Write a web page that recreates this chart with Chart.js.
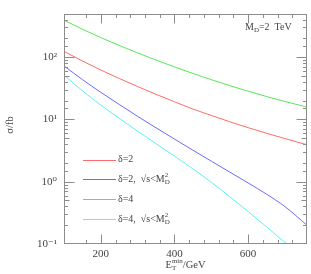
<!DOCTYPE html>
<html lang="en">
<head>
<meta charset="UTF-8">
<title>sigma vs ET min</title>
<script src="https://cdn.jsdelivr.net/npm/chart.js@4.4.1/dist/chart.umd.min.js"></script>
<style>
  html, body { margin: 0; padding: 0; background: #fff; }
  #wrap { width: 311px; height: 274px; }
</style>
</head>
<body>
<div id="wrap"><canvas id="xsec"></canvas></div>
<script>
// E_T^min in GeV
const etMin = [100, 150, 200, 250, 300, 350, 400, 450, 500, 550, 600, 650, 700, 760];
// sigma in fb
const sigD2    = [124, 86.7, 62.1, 45.5, 33.7, 25.3, 19.2, 14.7, 11.6, 9.18, 7.38, 6.0, 4.93, 3.92];
const sigD2Cut = [72.4, 43.6, 27.2, 17.4, 11.2, 7.33, 4.84, 3.21, 2.14, 1.43, 0.957, 0.632, 0.399, 0.2];
const sigD4    = [392, 281, 206, 154, 117, 89.7, 69.7, 54.7, 43.5, 34.9, 28.4, 23.3, 19.4, 15.8];
const sigD4Cut = [51.4, 28.9, 17.0, 10.4, 6.47, 4.08, 2.58, 1.61, 0.98, 0.577, 0.332, 0.189, 0.106, 0.053];
const xLabels = [200, 400, 600];
const SUP = { '-': '⁻', '0': '⁰', '1': '¹', '2': '²', '3': '³' };

const serif = '"Liberation Serif", "DejaVu Serif", serif';
const txtCol = '#444';
const frameCol = '#8c8c8c';

const colors = ['#ff6a6a', '#6a6aff', '#55e855', '#55f5f5'];
// legend rows: [text, style] pieces, style '' | 'sub' | 'sup'
const legendRows = [
  [['δ=2', '']],
  [['δ=2,  √s<M', ''], ['D', 'sub'], ['2', 'sup']],
  [['δ=4', '']],
  [['δ=4,  √s<M', ''], ['D', 'sub'], ['2', 'sup']]
];

const pts = (ys) => etMin.map((x, i) => ({ x: x, y: ys[i] }));

// draw text with stacked sub/superscripts, returns width
function rich(ctx, parts, x, y, size, measureOnly) {
  let cx = x, pend = 0;
  parts.forEach((p) => {
    const [t, st] = p;
    if (st === '') {
      cx += pend; pend = 0;
      ctx.font = size + 'px ' + serif;
      if (!measureOnly) ctx.fillText(t, cx, y);
      cx += ctx.measureText(t).width;
    } else {
      ctx.font = Math.round(size * 0.68) + 'px ' + serif;
      const w = ctx.measureText(t).width;
      if (!measureOnly) ctx.fillText(t, cx, st === 'sub' ? y + size * 0.3 : y - size * 0.42);
      pend = Math.max(pend, w);
    }
  });
  return cx + pend - x;
}

const decor = {
  id: 'decor',
  afterDraw(chart) {
    const ctx = chart.ctx;
    const a = chart.chartArea;
    const xs = chart.scales.x, ys = chart.scales.y;
    ctx.save();
    ctx.strokeStyle = frameCol;
    ctx.lineWidth = 1;
    const L = Math.round(a.left) + 0.5, R = Math.round(a.right) - 0.5;
    const T = Math.round(a.top) + 0.5, B = Math.round(a.bottom) - 0.5;
    ctx.strokeRect(L, T, R - L, B - T);
    ctx.beginPath();
    xs.ticks.forEach(t => {
      const v = t.value;
      if (v <= xs.min || v >= xs.max) return;
      const px = Math.round(xs.getPixelForValue(v)) + 0.5;
      const len = v % 200 === 0 ? 9 : 3.5;
      ctx.moveTo(px, B); ctx.lineTo(px, B - len);
      ctx.moveTo(px, T); ctx.lineTo(px, T + len);
    });
    ys.ticks.forEach(t => {
      const v = t.value;
      if (v <= ys.min * 1.0001 || v >= ys.max * 0.9999) return;
      const e = Math.floor(Math.log10(v) + 1e-9);
      const m = Math.round(v / Math.pow(10, e));
      const len = m === 1 ? 10 : (m === 5 ? 5 : 3.5);
      const py = Math.round(ys.getPixelForValue(v)) + 0.5;
      ctx.moveTo(L, py); ctx.lineTo(L + len, py);
      ctx.moveTo(R, py); ctx.lineTo(R - len, py);
    });
    ctx.stroke();

    ctx.fillStyle = txtCol;
    ctx.textBaseline = 'middle';
    ctx.textAlign = 'left';
    // legend
    legendRows.forEach((row, i) => {
      const y = 159.5 + i * 19.8;
      ctx.strokeStyle = colors[i];
      ctx.beginPath();
      ctx.moveTo(83, Math.round(y) + 0.5); ctx.lineTo(116, Math.round(y) + 0.5);
      ctx.stroke();
      rich(ctx, row, 118, y, 10);
    });
    // annotation
    rich(ctx, [['M', ''], ['D', 'sub'], ['=2  TeV', '']], 245, 27, 10);
    // x title
    const xt = [['E', ''], ['T', 'sub'], ['min', 'sup'], ['/GeV', '']];
    const w = rich(ctx, xt, 0, 0, 10.5, true);
    rich(ctx, xt, (a.left + a.right) / 2 - w / 2, 265.5, 10.5);
    // y title
    ctx.translate(10, 125);
    ctx.rotate(-Math.PI / 2);
    ctx.textAlign = 'center';
    ctx.font = '10.5px ' + serif;
    ctx.fillText('σ/fb', 0, 0);
    ctx.restore();
  }
};

new Chart(document.getElementById('xsec'), {
  type: 'line',
  data: {
    datasets: [
      { label: 'δ=2', data: pts(sigD2), borderColor: colors[0] },
      { label: 'δ=2, √s<M_D^2', data: pts(sigD2Cut), borderColor: colors[1] },
      { label: 'δ=4', data: pts(sigD4), borderColor: colors[2] },
      { label: 'δ=4, √s<M_D^2', data: pts(sigD4Cut), borderColor: colors[3] }
    ]
  },
  options: {
    animation: false,
    responsive: true,
    maintainAspectRatio: false,
    layout: { padding: { top: 2, right: 3, left: 0, bottom: 0 } },
    elements: {
      line: { borderWidth: 1, fill: false, cubicInterpolationMode: 'monotone' },
      point: { radius: 0 }
    },
    plugins: { legend: { display: false }, tooltip: { enabled: false } },
    scales: {
      x: {
        type: 'linear', min: 100, max: 760,
        grid: { display: false, drawTicks: false },
        border: { display: false },
        ticks: {
          stepSize: 40, autoSkip: false, maxRotation: 0, padding: 4,
          color: txtCol, font: { family: serif, size: 11 },
          callback: v => xLabels.includes(v) ? String(v) : ''
        },
        afterFit: s => { s.height = 30; }
      },
      y: {
        type: 'logarithmic', min: 0.1, max: 500,
        grid: { display: false, drawTicks: false },
        border: { display: false },
        ticks: {
          autoSkip: false, padding: 7,
          color: txtCol, font: { family: serif, size: 11 },
          callback: v => {
            const e = Math.log10(v);
            if (Math.abs(e - Math.round(e)) > 1e-6) return '';
            return '10' + String(Math.round(e)).split('').map(c => SUP[c]).join('');
          }
        },
        afterFit: s => { s.width = 64; }
      }
    }
  },
  plugins: [decor]
});
</script>
</body>
</html>
